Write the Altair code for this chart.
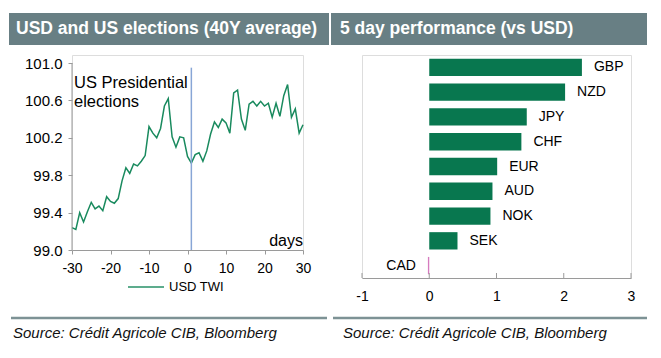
import altair as alt
import pandas as pd

# ---------------- data ----------------
days = list(range(-30, 31))
usd_twi = [
    99.24, 99.22, 99.40, 99.30, 99.41, 99.51, 99.44, 99.47, 99.42, 99.57,
    99.52, 99.50, 99.55, 99.74, 99.88, 99.82, 99.92, 99.90, 99.95, 100.01,
    100.32, 100.25, 100.20, 100.30, 100.54, 100.62, 100.21, 100.10, 100.21, 100.20,
    100.00, 99.93, 100.02, 100.04, 99.95, 100.06, 100.24, 100.37, 100.31, 100.40,
    100.36, 100.25, 100.68, 100.71, 100.40, 100.28, 100.56, 100.59, 100.54, 100.59,
    100.54, 100.57, 100.42, 100.57, 100.43, 100.65, 100.77, 100.42, 100.51, 100.25,
    100.34,
]
series_name = ["USD TWI"]
election_day = [1]
election_top = [100.95]
election_bottom = [99.0]
twi_x_ticks = [-30, -20, -10, 0, 10, 20, 30]
twi_y_ticks = [99.0, 99.4, 99.8, 100.2, 100.6, 101.0]
twi_y_domain = [99.0, 101.0856]   # axis ends at 101.0, plot area a little taller

currencies = ["GBP", "NZD", "JPY", "CHF", "EUR", "AUD", "NOK", "SEK", "CAD"]
perf = [2.27, 2.02, 1.45, 1.37, 1.01, 0.94, 0.91, 0.42, -0.02]
perf_ticks = [-1, 0, 1, 2, 3]

title_left = "USD and US elections (40Y average)"
title_right = "5 day performance (vs USD)"
source = "Source: Crédit Agricole CIB, Bloomberg"

# ---------------- style ----------------
FONT = "Liberation Sans"
HEADER = "#687f84"
RULEC = "#7d9295"
LINEC = "#198a5e"
BARC = "#08774f"
PINK = "#d67bbf"
ELEC = "#88a6d6"
AXC = "#9a9a9a"

LW, LH = 231, 195
RW, RH = 269, 223

one = pd.DataFrame({"k": [0]})


def header(x1, x2, y1, y2, text, tx, ty):
    rect = alt.Chart(one).mark_rect(color=HEADER).encode(
        x=alt.value(x1), x2=alt.value(x2), y=alt.value(y1), y2=alt.value(y2))
    txt = alt.Chart(one).mark_text(
        text=text, font=FONT, fontSize=17.5, fontWeight="bold", color="white",
        align="left", baseline="middle").encode(x=alt.value(tx), y=alt.value(ty))
    return [rect, txt]


def footer(x1, x2, y, tx, ty):
    rule = alt.Chart(one).mark_rule(color=RULEC, strokeWidth=2.5).encode(
        x=alt.value(x1), x2=alt.value(x2), y=alt.value(y))
    txt = alt.Chart(one).mark_text(
        text=source, font=FONT, fontSize=15, fontStyle="italic", color="#111111",
        align="left", baseline="middle").encode(x=alt.value(tx), y=alt.value(ty))
    return [rule, txt]


def note(text, x, y, align="left", size=16.5):
    return alt.Chart(one).mark_text(
        text=text, font=FONT, fontSize=size, color="#000000",
        align=align, baseline="middle").encode(x=alt.value(x), y=alt.value(y))


# ---------------- left panel ----------------
twi_df = pd.DataFrame({"day": days, "value": usd_twi,
                       "series": series_name * len(days)})
xl = alt.Scale(domain=[-30, 30], nice=False, zero=False)
yl = alt.Scale(domain=twi_y_domain, nice=False, zero=False)

x_axis_l = alt.Axis(
    values=twi_x_ticks, title=None, grid=False, tickSize=4, labelPadding=7,
    labelFontSize=14, labelFont=FONT, labelColor="#000000",
    domainColor=AXC, tickColor=AXC, labelFlush=False, labelOverlap=False,
    labelExpr="toString(datum.value)")
y_axis_l = alt.Axis(
    values=twi_y_ticks, title=None, grid=False, tickSize=4, domain=False,
    labelPadding=6, labelFontSize=15, labelFont=FONT, labelColor="#000000",
    tickColor=AXC, labelOverlap=False, labelExpr="format(datum.value, '.1f')")

line = alt.Chart(twi_df).mark_line(strokeWidth=1.5).encode(
    x=alt.X("day:Q", scale=xl, axis=x_axis_l),
    y=alt.Y("value:Q", scale=yl, axis=y_axis_l),
    color=alt.Color("series:N", scale=alt.Scale(range=[LINEC]), legend=alt.Legend(
        orient="none", legendX=55, legendY=213, title=None, symbolType="stroke",
        symbolSize=1296, symbolStrokeWidth=2, symbolOpacity=0.7, labelFontSize=13,
        labelFont=FONT, labelColor="#000000", padding=0, labelOffset=4)),
)

# y-axis line from 99.0 to 101.0
yaxis_df = pd.DataFrame({"day": [days[0]], "value": [twi_y_ticks[-1]],
                         "bottom": [twi_y_ticks[0]]})
yaxis_line = alt.Chart(yaxis_df).mark_rule(color=AXC, strokeWidth=1).encode(
    x=alt.X("day:Q", scale=xl, axis=x_axis_l),
    y=alt.Y("value:Q", scale=yl, axis=y_axis_l), y2="bottom:Q")

elec_df = pd.DataFrame({"day": election_day, "value": election_top,
                        "bottom": election_bottom})
elec = alt.Chart(elec_df).mark_rule(color=ELEC, strokeWidth=1.5).encode(
    x=alt.X("day:Q", scale=xl, axis=x_axis_l),
    y=alt.Y("value:Q", scale=yl, axis=y_axis_l), y2="bottom:Q")

left = alt.layer(
    *header(-63, 257, -42, -10, title_left, -56, -26),
    line, yaxis_line, elec,
    note("US Presidential", 2, 28),
    note("elections", 2, 47),
    note("days", LW, 186, align="right", size=16),
    *footer(-61, 255, 263, -59, 278),
).properties(width=LW, height=LH)

# ---------------- right panel ----------------
perf_df = pd.DataFrame({"ccy": currencies, "perf": perf})
xr = alt.Scale(domain=[-1, 3], nice=False, zero=False)
yr = alt.Scale(domain=currencies, paddingInner=0.3, paddingOuter=0.15)
x_axis_r = alt.Axis(
    values=perf_ticks, title=None, grid=False, ticks=False, labelPadding=11,
    labelFontSize=14, labelFont=FONT, labelColor="#000000",
    domainColor=AXC, labelFlush=False, labelOverlap=False,
    labelExpr="toString(datum.value)")

bars = alt.Chart(perf_df).mark_bar().encode(
    y=alt.Y("ccy:N", scale=yr, axis=None, sort=currencies),
    x=alt.X("perf:Q", scale=xr, axis=x_axis_r),
    color=alt.condition("datum.perf < 0", alt.value(PINK), alt.value(BARC)),
)
pos_lbl = alt.Chart(perf_df).transform_filter("datum.perf >= 0").mark_text(
    align="left", dx=12, font=FONT, fontSize=14, color="#000000", baseline="middle"
).encode(y=alt.Y("ccy:N", scale=yr, sort=currencies, axis=None),
         x=alt.X("perf:Q", scale=xr, axis=x_axis_r), text="ccy:N")
neg_lbl = alt.Chart(perf_df).transform_filter("datum.perf < 0").mark_text(
    align="right", dx=-12, font=FONT, fontSize=14, color="#000000", baseline="middle"
).encode(y=alt.Y("ccy:N", scale=yr, sort=currencies, axis=None),
         x=alt.X("perf:Q", scale=xr, axis=x_axis_r), text="ccy:N")
tick_df = pd.DataFrame({"perf": perf_ticks})
up_ticks = alt.Chart(tick_df).mark_rule(color=AXC, strokeWidth=1).encode(
    x=alt.X("perf:Q", scale=xr, axis=x_axis_r), y=alt.value(RH - 5), y2=alt.value(RH))

right = alt.layer(
    *header(-31, 285, -42, -10, title_right, -22, -26),
    bars, pos_lbl, neg_lbl, up_ticks,
    *footer(-29, 285, 263, -19, 278),
).properties(width=RW, height=RH)

chart = alt.hconcat(left, right, spacing=0, bounds="full").properties(
    padding={"left": 0, "top": 4, "right": 0, "bottom": 0}
).configure_view(strokeWidth=0).configure_axis(labelOverlap=False).configure(font=FONT)

chart.save("out.html", embed_options={"renderer": "svg", "actions": False})
